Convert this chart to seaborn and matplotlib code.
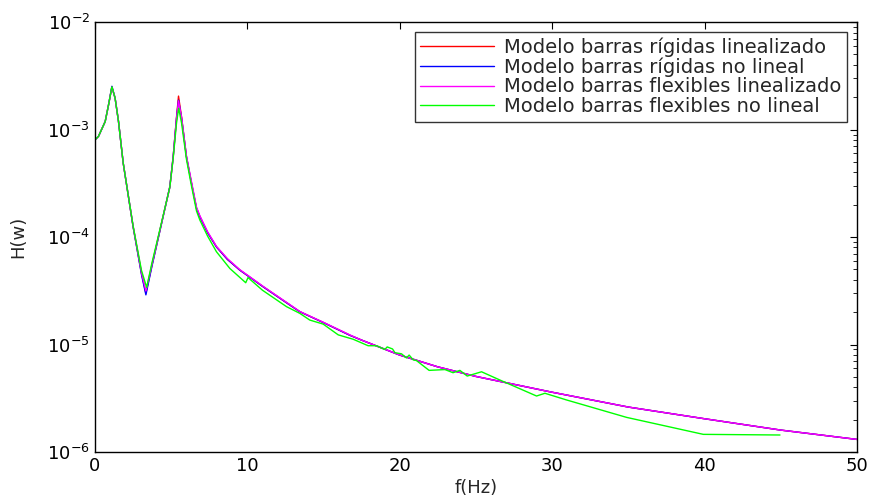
"""
Frequency response H(w) of the four bar models, log scale.
"""
import numpy as np
import matplotlib
matplotlib.use("Agg")
import matplotlib.pyplot as plt
import seaborn as sns

# frequency points (Hz)
freq = [0, 0.24, 0.68, 0.9, 1.12, 1.33, 1.55, 1.86, 2.51, 3.06, 3.35, 3.74,
        4.05, 4.92, 5.14, 5.36, 5.49, 5.69, 6.01, 6.3, 6.67, 6.89, 7.4, 7.98,
        8.7, 9.51, 10.2, 11.04, 12.8, 13.45, 15, 16.73, 17.5, 20, 22.5, 25,
        30, 35, 40, 45, 50]

rigid_lin = [8.0e-4, 8.65e-4, 1.19e-3, 1.70e-3, 2.50e-3, 1.96e-3, 1.2e-3, 4.9e-4,
             1.25e-4, 4.6e-5, 3.0e-5, 5.4e-5, 8.4e-5, 2.94e-4, 5.6e-4, 1.31e-3,
             2.05e-3, 1.31e-3, 5.6e-4, 3.4e-4, 1.85e-4, 1.55e-4, 1.1e-4, 8.1e-5,
             6.2e-5, 4.93e-5, 4.2e-5, 3.45e-5, 2.33e-5, 2.02e-5, 1.6e-5, 1.22e-5,
             1.1e-5, 7.98e-6, 6.2e-6, 5.05e-6, 3.6e-6, 2.62e-6, 2.04e-6, 1.6e-6,
             1.31e-6]

rigid_nl = [8.0e-4, 8.65e-4, 1.19e-3, 1.70e-3, 2.53e-3, 1.96e-3, 1.2e-3, 4.9e-4,
            1.25e-4, 4.5e-5, 2.9e-5, 5.3e-5, 8.3e-5, 2.94e-4, 5.6e-4, 1.28e-3,
            1.88e-3, 1.28e-3, 5.6e-4, 3.4e-4, 1.85e-4, 1.55e-4, 1.1e-4, 8.1e-5,
            6.2e-5, 4.93e-5, 4.2e-5, 3.45e-5, 2.33e-5, 2.02e-5, 1.6e-5, 1.22e-5,
            1.1e-5, 7.98e-6, 6.2e-6, 5.05e-6, 3.6e-6, 2.62e-6, 2.04e-6, 1.6e-6,
            1.31e-6]

flex_lin = [8.0e-4, 8.65e-4, 1.19e-3, 1.70e-3, 2.48e-3, 1.96e-3, 1.2e-3, 4.9e-4,
            1.27e-4, 4.7e-5, 3.15e-5, 5.5e-5, 8.5e-5, 2.90e-4, 5.5e-4, 1.26e-3,
            1.85e-3, 1.30e-3, 5.7e-4, 3.5e-4, 1.9e-4, 1.58e-4, 1.12e-4, 8.2e-5,
            6.3e-5, 4.98e-5, 4.24e-5, 3.48e-5, 2.35e-5, 2.03e-5, 1.61e-5, 1.23e-5,
            1.1e-5, 8.0e-6, 6.2e-6, 5.05e-6, 3.6e-6, 2.62e-6, 2.04e-6, 1.6e-6,
            1.31e-6]

freq_flex_nl = [0, 0.24, 0.68, 0.9, 1.12, 1.33, 1.55, 1.86, 2.51, 3.06, 3.4, 3.74,
                4.05, 4.92, 5.14, 5.36, 5.5, 5.69, 6.01, 6.3, 6.67, 6.89, 7.4, 7.98,
                8.86, 9.9, 10.05, 11.0, 12.58, 13.45, 14.1, 14.98, 15.97, 16.95,
                17.93, 18.48, 19.03, 19.18, 19.53, 19.69, 20.12, 20.45, 20.62,
                20.89, 21.1, 21.93, 22.97, 23.5, 23.95, 24.43, 25.37, 26.57, 28.98,
                29.53, 30.95, 34.89, 39.92, 44.95]

flex_nl = [8.0e-4, 8.65e-4, 1.19e-3, 1.70e-3, 2.50e-3, 1.96e-3, 1.2e-3, 4.9e-4,
           1.27e-4, 4.9e-5, 3.4e-5, 5.7e-5, 8.7e-5, 2.9e-4, 5.4e-4, 1.15e-3,
           1.58e-3, 1.15e-3, 5.3e-4, 3.2e-4, 1.75e-4, 1.44e-4, 1.02e-4, 7.3e-5,
           5.1e-5, 3.76e-5, 4.2e-5, 3.2e-5, 2.25e-5, 1.95e-5, 1.69e-5, 1.55e-5,
           1.23e-5, 1.12e-5, 9.75e-6, 9.75e-6, 9.0e-6, 9.5e-6, 9.1e-6, 8.4e-6,
           8.2e-6, 7.5e-6, 7.98e-6, 7.2e-6, 7.1e-6, 5.75e-6, 5.85e-6, 5.47e-6,
           5.75e-6, 5.09e-6, 5.58e-6, 4.68e-6, 3.32e-6, 3.52e-6, 3.05e-6, 2.1e-6,
           1.46e-6, 1.44e-6]

labels = ["Modelo barras rígidas linealizado", "Modelo barras rígidas no lineal",
          "Modelo barras flexibles linealizado", "Modelo barras flexibles no lineal"]
colors = ["#ff0000", "#0000ff", "#ff00ff", "#00ff00"]

sns.set_style("white")
plt.rcParams["font.family"] = ["DejaVu Sans"]
plt.rcParams["mathtext.default"] = "regular"

fig = plt.figure(figsize=(8.7, 4.97), dpi=100)
ax = fig.add_axes([0.109, 0.0905, 0.876, 0.865])

series = [(freq, rigid_lin), (freq, rigid_nl), (freq, flex_lin), (freq_flex_nl, flex_nl)]
for (x, y), lab, col in zip(series, labels, colors):
    sns.lineplot(x=x, y=y, ax=ax, color=col, label=lab, linewidth=1.0, sort=False)

ax.set_yscale("log")
ax.set_xlim(0, 50)
ax.set_ylim(1e-6, 1e-2)
ax.set_xticks([0, 10, 20, 30, 40, 50])
ax.set_xlabel("f(Hz)", fontsize=13, labelpad=3)
ax.set_ylabel("H(w)", fontsize=13, labelpad=14)
ax.tick_params(axis="both", which="both", direction="in", top=True, right=True,
               labelsize=13, colors="black")
ax.tick_params(which="major", length=5, width=0.8)
ax.tick_params(which="minor", length=3, width=0.6)
for s in ax.spines.values():
    s.set_color("black")
    s.set_linewidth(1.0)

leg = ax.legend(loc="upper right", fontsize=14, frameon=True, fancybox=False,
                handlelength=3.8, labelspacing=0.02, borderpad=0.3,
                handletextpad=0.5, borderaxespad=0.5)
leg.get_frame().set_edgecolor("black")
leg.get_frame().set_linewidth(1.0)

fig.savefig("out.png", dpi=100)
